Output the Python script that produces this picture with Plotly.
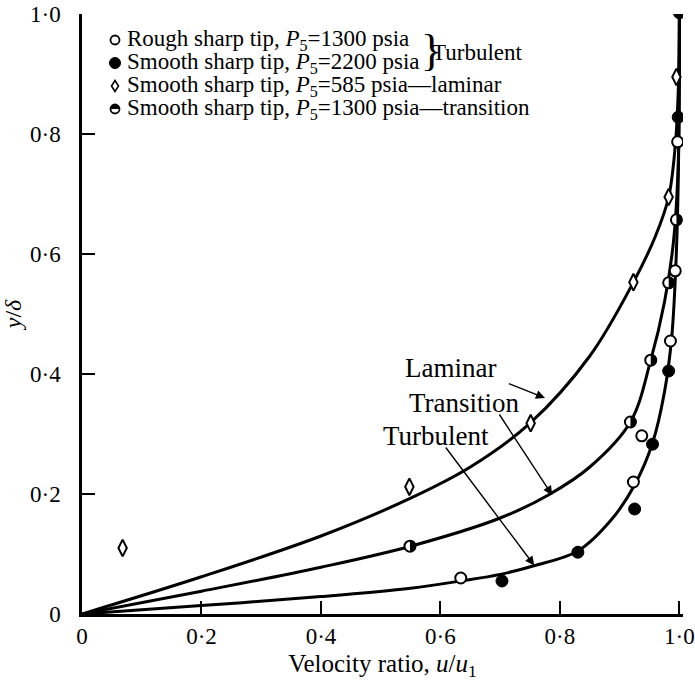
import plotly.graph_objects as go

# ---- data ----
rough_x = [0.997, 0.993, 0.985, 0.937, 0.923, 0.634]
rough_y = [0.787, 0.572, 0.455, 0.297, 0.220, 0.060]

smooth2200_x = [1.000, 0.998, 0.982, 0.955, 0.925, 0.830, 0.703]
smooth2200_y = [1.002, 0.828, 0.405, 0.283, 0.175, 0.103, 0.055]

laminar_x = [0.995, 0.982, 0.923, 0.751, 0.548, 0.068]
laminar_y = [0.895, 0.695, 0.553, 0.318, 0.212, 0.110]

transition_x = [0.995, 0.982, 0.952, 0.918, 0.549]
transition_y = [0.657, 0.552, 0.423, 0.320, 0.113]

# drawn curves
curve_lam_x = [0.0, 0.2, 0.4, 0.55, 0.65, 0.75, 0.85, 0.923, 0.96, 0.982, 0.993, 0.998, 1.0]
curve_lam_y = [0.0, 0.062, 0.130, 0.193, 0.245, 0.318, 0.430, 0.553, 0.630, 0.695, 0.780, 0.870, 1.0]

curve_tra_x = [0.0, 0.2, 0.4, 0.55, 0.70, 0.78, 0.85, 0.918, 0.952, 0.975, 0.990, 0.998, 1.0]
curve_tra_y = [0.0, 0.038, 0.078, 0.113, 0.160, 0.198, 0.245, 0.320, 0.423, 0.520, 0.620, 0.750, 1.0]

curve_tur_x = [0.0, 0.2, 0.4, 0.55, 0.634, 0.70, 0.755, 0.83, 0.886, 0.925, 0.955, 0.975, 0.987, 0.994, 0.998, 1.0]
curve_tur_y = [0.0, 0.014, 0.029, 0.043, 0.055, 0.066, 0.080, 0.105, 0.157, 0.215, 0.285, 0.370, 0.460, 0.580, 0.720, 1.0]

x_ticks = [0, 0.2, 0.4, 0.6, 0.8, 1.0]
x_tick_labels = ["0", "0·2", "0·4", "0·6", "0·8", "1·0"]
y_ticks = [0, 0.2, 0.4, 0.6, 0.8, 1.0]
y_tick_labels = ["0", "0·2", "0·4", "0·6", "0·8", "1·0"]

legend_labels = [
    "Rough sharp tip, <i>P</i><sub>5</sub>=1300 psia",
    "Smooth sharp tip, <i>P</i><sub>5</sub>=2200 psia",
    "Smooth sharp tip, <i>P</i><sub>5</sub>=585 psia—laminar",
    "Smooth sharp tip, <i>P</i><sub>5</sub>=1300 psia—transition",
]

FONT = "Liberation Serif"
W, H = 695, 681
ML, MR, MT, MB = 82, 12, 14, 67
PW, PH = W - ML - MR, H - MT - MB


def px(xp):
    return (xp - ML) / PW


def py(yp):
    return (H - MB - yp) / PH


fig = go.Figure()

for cx, cy in [(curve_lam_x, curve_lam_y), (curve_tra_x, curve_tra_y), (curve_tur_x, curve_tur_y)]:
    fig.add_trace(go.Scatter(x=cx, y=cy, mode="lines",
                             line=dict(color="black", width=3, shape="spline", smoothing=1.0),
                             showlegend=False, hoverinfo="skip"))

fig.add_trace(go.Scatter(x=rough_x, y=rough_y, mode="markers", name=legend_labels[0], showlegend=False,
                         marker=dict(symbol="circle", size=11, color="white", line=dict(color="black", width=2))))
fig.add_trace(go.Scatter(x=smooth2200_x, y=smooth2200_y, mode="markers", name=legend_labels[1], showlegend=False,
                         marker=dict(symbol="circle", size=12, color="black", line=dict(color="black", width=1))))
fig.add_trace(go.Scatter(x=laminar_x, y=laminar_y, mode="markers", name=legend_labels[2], showlegend=False,
                         marker=dict(symbol="diamond-tall", size=12, color="white", line=dict(color="black", width=2))))
fig.add_trace(go.Scatter(x=transition_x, y=transition_y, mode="markers", name=legend_labels[3], showlegend=False,
                         marker=dict(symbol="circle", size=11, color="white", line=dict(color="black", width=2))))

R = 5.5
K = 0.5523 * R
half_path = f"M0,{-R} C{K},{-R} {R},{-K} {R},0 C{R},{K} {K},{R} 0,{R} Z"

shapes = []
# dark half of the transition markers
for tx, ty in zip(transition_x, transition_y):
    shapes.append(dict(type="path", xref="x", yref="y", xsizemode="pixel", ysizemode="pixel",
                       xanchor=tx, yanchor=ty, path=half_path, fillcolor="black", line=dict(width=0)))

# legend glyphs
leg_x = 115
leg_rows = [40, 63, 86, 109]
shapes.append(dict(type="circle", xref="paper", yref="paper", xsizemode="pixel", ysizemode="pixel",
                   xanchor=px(leg_x), yanchor=py(leg_rows[0]), x0=-4.5, x1=4.5, y0=-4.5, y1=4.5,
                   fillcolor="white", line=dict(color="black", width=1.8)))
shapes.append(dict(type="circle", xref="paper", yref="paper", xsizemode="pixel", ysizemode="pixel",
                   xanchor=px(leg_x), yanchor=py(leg_rows[1]), x0=-5.5, x1=5.5, y0=-5.5, y1=5.5,
                   fillcolor="black", line=dict(color="black", width=1)))
shapes.append(dict(type="path", xref="paper", yref="paper", xsizemode="pixel", ysizemode="pixel",
                   xanchor=px(leg_x), yanchor=py(leg_rows[2]), path="M0,5.5 L3.5,0 L0,-5.5 L-3.5,0 Z",
                   fillcolor="white", line=dict(color="black", width=1.6)))
shapes.append(dict(type="circle", xref="paper", yref="paper", xsizemode="pixel", ysizemode="pixel",
                   xanchor=px(leg_x), yanchor=py(leg_rows[3]), x0=-4.5, x1=4.5, y0=-4.5, y1=4.5,
                   fillcolor="white", line=dict(color="black", width=1.8)))
r2 = 4.5
k2 = 0.5523 * r2
shapes.append(dict(type="path", xref="paper", yref="paper", xsizemode="pixel", ysizemode="pixel",
                   xanchor=px(leg_x), yanchor=py(leg_rows[3]),
                   path=f"M{-r2},0 C{-r2},{k2} {-k2},{r2} 0,{r2} C{k2},{r2} {r2},{k2} {r2},0 Z",
                   fillcolor="black", line=dict(width=0)))

annotations = []
for lbl, row in zip(legend_labels, leg_rows):
    annotations.append(dict(text=lbl, x=px(125), y=py(row), xref="paper", yref="paper", showarrow=False,
                            xanchor="left", yanchor="middle", font=dict(family=FONT, size=23, color="black")))
annotations.append(dict(text="}", x=px(419), y=py(51), xref="paper", yref="paper", showarrow=False,
                        xanchor="left", yanchor="middle", font=dict(family=FONT, size=44, color="black")))
annotations.append(dict(text="Turbulent", x=px(430), y=py(53), xref="paper", yref="paper", showarrow=False,
                        xanchor="left", yanchor="middle", font=dict(family=FONT, size=23, color="black")))

# curve labels and arrows
for txt, lx, ly in [("Laminar", 0.617, 0.41), ("Transition", 0.64, 0.352), ("Turbulent", 0.592, 0.297)]:
    annotations.append(dict(text=txt, x=lx, y=ly, xref="x", yref="y", showarrow=False,
                            font=dict(family=FONT, size=27, color="black")))
for (tx, ty, ax, ay) in [(0.775, 0.360, 0.712, 0.385), (0.787, 0.198, 0.697, 0.335), (0.757, 0.081, 0.607, 0.280)]:
    annotations.append(dict(text="", x=tx, y=ty, ax=ax, ay=ay, xref="x", yref="y", axref="x", ayref="y",
                            showarrow=True, arrowhead=2, arrowsize=1.3, arrowwidth=1.4, arrowcolor="black"))

fig.update_layout(
    width=W, height=H,
    margin=dict(l=ML, r=MR, t=MT, b=MB),
    plot_bgcolor="white", paper_bgcolor="white",
    font=dict(family=FONT, size=23, color="black"),
    showlegend=False,
    annotations=annotations,
    shapes=shapes,
)
fig.update_xaxes(range=[0, 1.006], tickvals=x_ticks, ticktext=x_tick_labels, ticks="inside", ticklen=13,
                 tickwidth=2, tickcolor="black", showline=True, linecolor="black", linewidth=2.5,
                 showgrid=False, zeroline=False, ticklabelstandoff=0, automargin=False,
                 ticklabeloverflow="allow", tickfont=dict(family=FONT, size=23),
                 title=dict(text="Velocity ratio, <i>u</i>/<i>u</i><sub>1</sub>", standoff=14,
                            font=dict(family=FONT, size=25)))
fig.update_yaxes(range=[0, 1.0], tickvals=y_ticks, ticktext=y_tick_labels, ticks="inside", ticklen=13,
                 tickwidth=2, tickcolor="black", showline=True, linecolor="black", linewidth=2.5,
                 showgrid=False, zeroline=False, ticklabelstandoff=14, automargin=False,
                 ticklabeloverflow="allow", tickfont=dict(family=FONT, size=23),
                 title=dict(text="<i>y</i>/<i>δ</i>", standoff=12, font=dict(family=FONT, size=24)))

fig.write_html("out.html")
